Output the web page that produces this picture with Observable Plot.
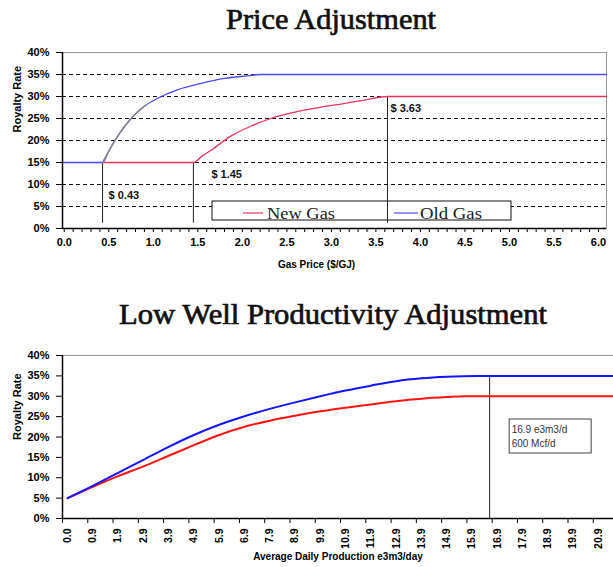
<!DOCTYPE html>
<html>
<head>
<meta charset="utf-8">
<script src="https://cdn.jsdelivr.net/npm/d3@7"></script>
<script src="https://cdn.jsdelivr.net/npm/@observablehq/plot@0.6"></script>
<style>
  html, body { margin: 0; padding: 0; background: #fff; }
  #page { position: relative; width: 613px; height: 567px; overflow: hidden; background: #fff; }
  #page > svg { position: absolute; left: 0; }
</style>
</head>
<body>
<div id="page"></div>
<script>
// ---------------- DATA : Price Adjustment ----------------
const priceTitle = "Price Adjustment";
const priceAxisTitle = "Gas Price ($/GJ)";
const rateAxisTitle = "Royalty Rate";
const rateTicks = [0, 5, 10, 15, 20, 25, 30, 35, 40];
const priceTicks = [0, 0.5, 1, 1.5, 2, 2.5, 3, 3.5, 4, 4.5, 5, 5.5, 6];
const priceMinorTicks = [0,0.1,0.2,0.3,0.4,0.5,0.6,0.7,0.8,0.9,1,1.1,1.2,1.3,1.4,1.5,1.6,1.7,1.8,1.9,2,2.1,2.2,2.3,2.4,2.5,2.6,2.7,2.8,2.9,3,3.1,3.2,3.3,3.4,3.5,3.6,3.7,3.8,3.9,4,4.1,4.2,4.3,4.4,4.5,4.6,4.7,4.8,4.9,5,5.1,5.2,5.3,5.4,5.5,5.6,5.7,5.8,5.9,6];

const oldGasPrice = [0, 0.43, 0.5, 0.6, 0.75, 0.9, 1.05, 1.27, 1.54, 1.8, 2.06, 2.2, 6.09];
const oldGasRate  = [15, 15, 17.6, 21.0, 25.0, 27.8, 29.6, 31.5, 33.0, 34.1, 34.7, 35, 35];
const newGasPrice = [0.43, 1.45, 1.55, 1.65, 1.87, 2.1, 2.32, 2.54, 2.84, 3.14, 3.4, 3.63, 6.09];
const newGasRate  = [15, 15, 16.5, 17.8, 21.0, 23.3, 25.0, 26.2, 27.4, 28.4, 29.3, 30, 30];

const thresholdPrice = [0.43, 1.45, 3.63];
const thresholdRate  = [15, 15, 30];
const thresholdLabel = ["$ 0.43", "$ 1.45", "$ 3.63"];

const seriesNames = ["New Gas", "Old Gas"];

// ---------------- DATA : Low Well Productivity Adjustment ----------------
const prodTitle = "Low Well Productivity Adjustment";
const prodAxisTitle = "Average Daily Production e3m3/day";
const prodLabels = ["0.0","0.9","1.9","2.9","3.9","4.9","5.9","6.9","7.9","8.9","9.9","10.9","11.9","12.9","13.9","14.9","15.9","16.9","17.9","18.9","19.9","20.9"];

const oldLowPos  = [0, 1, 2, 3, 4, 5, 6, 7, 8, 9, 10, 11, 12, 13, 14, 15, 16.2, 21.6];
const oldLowRate = [5, 8.0, 11.2, 14.4, 17.6, 20.5, 23.0, 25.1, 26.9, 28.5, 30.0, 31.4, 32.6, 33.7, 34.4, 34.8, 35, 35];
const newLowPos  = [0, 1, 2, 3, 4, 5, 6, 7, 8, 9, 10, 11, 12, 13, 14, 15, 15.7, 21.6];
const newLowRate = [5, 7.8, 10.4, 12.8, 15.4, 18.0, 20.5, 22.5, 24.0, 25.2, 26.3, 27.2, 28.0, 28.8, 29.4, 29.8, 30, 30];

const cutoffPos = 16.7;
const cutoffRate = 35;
const cutoffText = ["16.9 e3m3/d", "600 Mcf/d"];

// ---------------- build rows ----------------
const oldGasRows = oldGasPrice.map((x, i) => ({x, y: oldGasRate[i]}));
const newGasRows = newGasPrice.map((x, i) => ({x, y: newGasRate[i]}));
const thresholdRows = thresholdPrice.map((x, i) => ({x, y: thresholdRate[i], label: thresholdLabel[i]}));
const oldLowRows = oldLowPos.map((x, i) => ({x, y: oldLowRate[i]}));
const newLowRows = newLowPos.map((x, i) => ({x, y: newLowRate[i]}));

// ---------------- styles ----------------
const RED1 = "#e8355f", BLUE1 = "#4b4bf2", GREY1 = "#8a8a8a";
const RED2 = "#ff1414", BLUE2 = "#1414ff";
const baseStyle = {fontFamily: "'Liberation Sans', Arial, sans-serif", fontSize: "11px", fontWeight: "bold", color: "#000", background: "transparent", overflow: "visible"};
// label placement (layout only)
const thresholdLabelLayout = [{dy: 7.4, dx: 6}, {dy: 2.7, dx: 18}, {dy: 2.7, dx: 3}];

const page = document.getElementById("page");

// ---------------- chart 1 ----------------
const xDom1 = [-0.02, 6.09];
function legendBox(index, scales, values, dims) {
  const g = d3.create("svg:g");
  const L = dims.marginLeft, T = dims.marginTop;
  g.append("rect").attr("x", L + 150).attr("y", T + 149).attr("width", 299).attr("height", 19)
    .attr("fill", "#fff").attr("stroke", "#111").attr("stroke-width", 1);
  const entries = [
    {name: seriesNames[0], color: RED1, x1: L + 181, x2: L + 201, tx: L + 205, tl: 68},
    {name: seriesNames[1], color: BLUE1, x1: L + 332, x2: L + 356, tx: L + 358, tl: 62}
  ];
  for (const e of entries) {
    g.append("line").attr("x1", e.x1).attr("x2", e.x2).attr("y1", T + 161).attr("y2", T + 161)
      .attr("stroke", e.color).attr("stroke-width", 1.2);
    g.append("text").attr("x", e.tx).attr("y", T + 167).text(e.name)
      .attr("text-anchor", "start")
      .attr("font-family", "'Liberation Serif', 'Times New Roman', serif").attr("font-size", 16)
      .attr("font-weight", "normal").attr("fill", "#222")
      .attr("textLength", e.tl).attr("lengthAdjust", "spacingAndGlyphs");
  }
  return g.node();
}

const chart1 = Plot.plot({
  width: 613, height: 240,
  marginLeft: 62, marginRight: 7, marginTop: 12, marginBottom: 52,
  style: baseStyle,
  x: {domain: xDom1, label: null},
  y: {domain: [0, 40], label: null},
  marks: [
    Plot.frame({stroke: "#9a9a9a", strokeWidth: 1}),
    Plot.ruleY(rateTicks.filter(t => t > 0 && t < 40), {stroke: "#111", strokeWidth: 1, strokeDasharray: "4,3"}),
    legendBox,
    Plot.ruleX(thresholdRows, {x: "x", y1: 1.2, y2: "y", stroke: "#222", strokeWidth: 1}),
    Plot.line(newGasRows, {x: "x", y: "y", stroke: RED1, strokeWidth: 1.3, curve: "monotone-x"}),
    Plot.line(oldGasRows, {x: "x", y: "y", stroke: BLUE1, strokeWidth: 1.3, curve: "monotone-x"}),
    Plot.line(oldGasRows.filter(d => d.x >= 0.43 && d.x <= 0.9), {x: "x", y: "y", stroke: GREY1, strokeWidth: 1.5, curve: "monotone-x"}),
    Plot.text(thresholdRows, {
      x: "x",
      y: (d, i) => d.y - thresholdLabelLayout[i].dy,
      text: "label", textAnchor: "start", fontSize: 11, fontWeight: "bold", fill: "#111"
    }),
    Plot.ruleX([xDom1[0]], {stroke: "#000", strokeWidth: 1.5}),
    Plot.ruleY([0], {stroke: "#000", strokeWidth: 1.5}),
    Plot.axisY({ticks: rateTicks, tickFormat: d => d + "%", tickSize: 6, tickPadding: 7, label: null, fontSize: 11}),
    Plot.axisX({ticks: priceTicks, tickFormat: d => d.toFixed(1), tickSize: 0, tickPadding: 10, label: null, fontSize: 11}),
    Plot.axisX({ticks: priceMinorTicks, tickFormat: () => "", tickSize: 4, label: null}),
    Plot.text([rateAxisTitle], {text: d => d, frameAnchor: "left", rotate: -90, dx: -45, dy: -8, fontSize: 11, fontWeight: "bold"}),
    Plot.text([priceAxisTitle], {text: d => d, frameAnchor: "bottom", dy: 39, dx: -18, fontSize: 10, fontWeight: "bold"})
  ]
});
chart1.style.top = "40px";
page.appendChild(chart1);

// apply per-label dx offsets after render (layout only)
d3.select(chart1).selectAll("g[aria-label='text'] text").each(function(d, i) {
  if (i < thresholdLabelLayout.length) {
    const t = d3.select(this);
    const x = +t.attr("x") || 0;
    if (t.attr("x") != null) t.attr("x", x + thresholdLabelLayout[i].dx);
    else {
      const tr = t.attr("transform") || "";
      t.attr("transform", `translate(${thresholdLabelLayout[i].dx},0) ` + tr);
    }
  }
});

// ---------------- chart 2 ----------------
const xDom2 = [-0.2, 21.6];
function cutoffBox(index, scales, values, dims) {
  const g = d3.create("svg:g");
  const lx = scales.x(cutoffPos);
  const T = dims.marginTop;
  g.append("rect").attr("x", lx + 20).attr("y", T + 64).attr("width", 82).attr("height", 34)
    .attr("fill", "#fff").attr("stroke", "#444").attr("stroke-width", 1);
  cutoffText.forEach((s, i) => {
    g.append("text").attr("x", lx + 22.5).attr("y", T + 78 + i * 14).text(s)
      .attr("text-anchor", "start")
      .attr("font-family", "'Liberation Sans', Arial, sans-serif").attr("font-size", 10)
      .attr("font-weight", "normal").attr("fill", "#333");
  });
  return g.node();
}

const chart2 = Plot.plot({
  width: 613, height: 232,
  marginLeft: 62, marginRight: 0, marginTop: 20, marginBottom: 49,
  style: baseStyle,
  x: {domain: xDom2, label: null},
  y: {domain: [0, 40], label: null},
  marks: [
    Plot.frame({stroke: "#9a9a9a", strokeWidth: 1}),
    Plot.ruleX([cutoffPos], {y1: 0, y2: cutoffRate, stroke: "#222", strokeWidth: 1}),
    cutoffBox,
    Plot.line(newLowRows, {x: "x", y: "y", stroke: RED2, strokeWidth: 2, curve: "monotone-x"}),
    Plot.line(oldLowRows, {x: "x", y: "y", stroke: BLUE2, strokeWidth: 2, curve: "monotone-x"}),
    Plot.ruleX([xDom2[0]], {stroke: "#000", strokeWidth: 1.5}),
    Plot.ruleY([0], {stroke: "#000", strokeWidth: 1.5}),
    Plot.axisY({ticks: rateTicks, tickFormat: d => d + "%", tickSize: 6, tickPadding: 7, label: null, fontSize: 11}),
    Plot.axisX({ticks: prodLabels.map((_, i) => i), tickFormat: i => prodLabels[i], tickRotate: -90, tickSize: 0, tickPadding: 10, label: null, fontSize: 10.5}),
    Plot.axisX({ticks: prodLabels.map((_, i) => i - 0.2), tickFormat: () => "", tickSize: 5, label: null}),
    Plot.text([rateAxisTitle], {text: d => d, frameAnchor: "left", rotate: -90, dx: -45, dy: 3, fontSize: 11, fontWeight: "bold"}),
    Plot.text([prodAxisTitle], {text: d => d, frameAnchor: "bottom", dy: 41, fontSize: 10, fontWeight: "bold"})
  ]
});
chart2.style.top = "335px";
page.appendChild(chart2);

// ---------------- titles ----------------
const titles = d3.create("svg").attr("width", 613).attr("height", 567)
  .style("top", "0px").style("pointer-events", "none");
[{t: priceTitle, x: 331, y: 28.5, len: 210, size: 30},
 {t: prodTitle, x: 333, y: 323.5, len: 428, size: 29}].forEach(o => {
  titles.append("text").attr("x", o.x).attr("y", o.y).attr("text-anchor", "middle")
    .attr("font-family", "'Liberation Serif', 'Times New Roman', serif").attr("font-size", o.size)
    .attr("fill", "#111").attr("stroke", "#111").attr("stroke-width", 0.7)
    .attr("textLength", o.len).attr("lengthAdjust", "spacingAndGlyphs").text(o.t);
});
page.appendChild(titles.node());
</script>
</body>
</html>
